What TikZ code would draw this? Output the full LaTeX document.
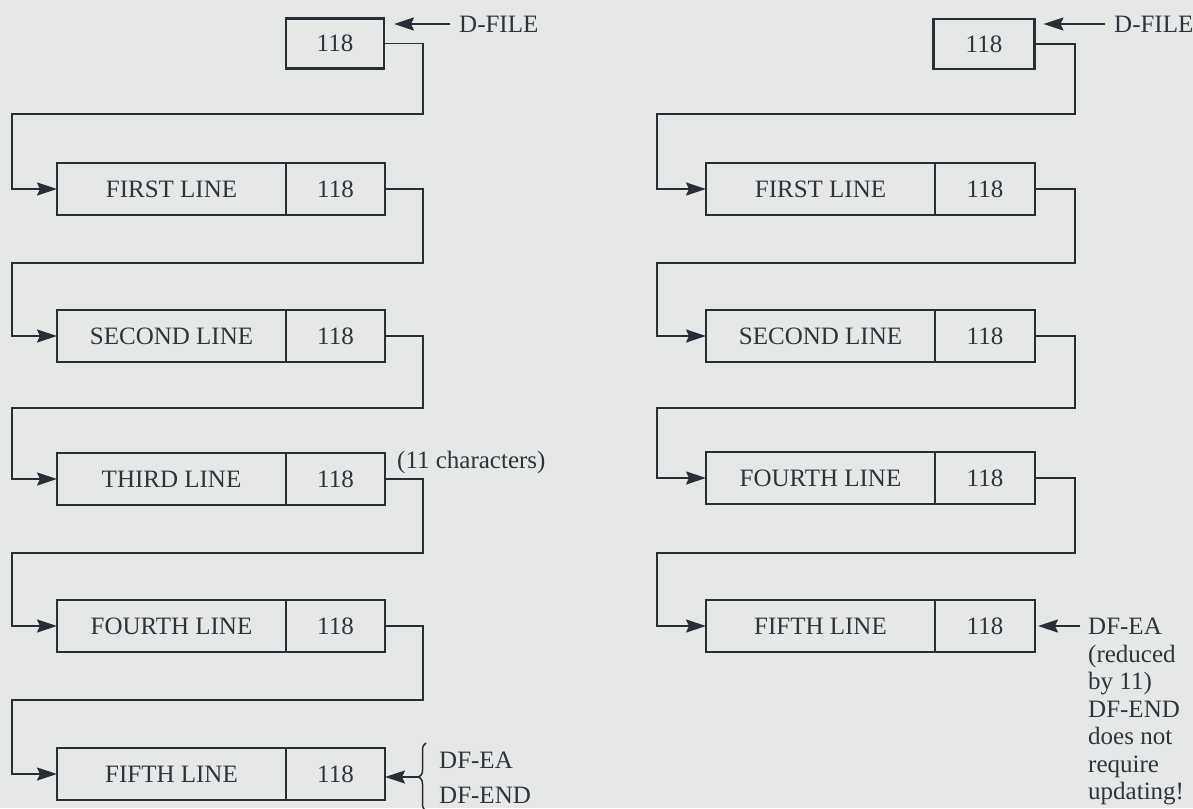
\documentclass[tikz,border=0pt]{standalone}
\usepackage{fontspec}
\setmainfont{Liberation Serif}
\usetikzlibrary{arrows.meta,decorations.pathreplacing}
\definecolor{bgc}{RGB}{230,232,231}
\definecolor{ink}{RGB}{42,44,54}
\definecolor{txt}{RGB}{48,50,62}
\tikzset{
  cell/.style={draw=ink, line width=2.6pt, minimum height=52pt, inner sep=0pt, outer sep=0pt, text=txt},
  namecell/.style={cell, minimum width=229pt},
  numcell/.style={cell, minimum width=99pt},
  topcell/.style={cell, minimum width=98pt, minimum height=50pt},
  conn/.style={draw=ink, line width=1.7pt, -{Stealth[length=20pt,width=13pt,inset=3pt]}},
  lbl/.style={text=txt, inner sep=0pt, anchor=west},
}
\begin{document}
\begin{tikzpicture}[x=1pt,y=-1pt,font=\fontsize{25}{30}\selectfont]
\fill[bgc] (0,0) rectangle (1193,808);
\useasboundingbox (0,0) rectangle (1193,808);

% ---------- left column ----------
\node[topcell] (L0) at (335,43.5) {118};
\node[lbl] (Ldf) at (459,24) {D-FILE};
\draw[conn] ([xshift=-9pt]Ldf.west) -- ([xshift=10pt]L0.east |- Ldf.west);

\node[namecell] (L1a) at (171.5,189) {FIRST LINE};
\node[numcell, anchor=west] (L1b) at (L1a.east) {118};
\node[namecell] (L2a) at (171.5,336) {SECOND LINE};
\node[numcell, anchor=west] (L2b) at (L2a.east) {118};
\node[namecell] (L3a) at (171.5,479) {THIRD LINE};
\node[numcell, anchor=west] (L3b) at (L3a.east) {118};
\node[namecell] (L4a) at (171.5,626) {FOURTH LINE};
\node[numcell, anchor=west] (L4b) at (L4a.east) {118};
\node[namecell] (L5a) at (171.5,774) {FIFTH LINE};
\node[numcell, anchor=west] (L5b) at (L5a.east) {118};

\draw[conn] (L0.east) -| (423,114) -| (12,189) -- (L1a.west);
\draw[conn] (L1b.east) -| (423,263) -| (12,336) -- (L2a.west);
\draw[conn] (L2b.east) -| (423,408) -| (12,479) -- (L3a.west);
\draw[conn] (L3b.east) -| (423,553) -| (12,626) -- (L4a.west);
\draw[conn] (L4b.east) -| (423,700) -| (12,774) -- (L5a.west);

\node[lbl] (Lch) at (397,462) {(11 characters)};

\draw[draw=ink, line width=1.5pt, decorate, decoration={brace, amplitude=7pt}] (426,811) -- (426,743);
\coordinate (Lbr) at (419,777);
\draw[conn] (Lbr) -- (L5b.east |- Lbr);
\node[lbl] (Lea) at (439,760) {DF-EA};
\node[lbl] (Lend) at (439,795) {DF-END};

% ---------- right column ----------
\node[topcell, minimum width=101pt] (R0) at (984,44) {118};
\node[lbl] (Rdf) at (1114,24) {D-FILE};
\draw[conn] ([xshift=-9pt]Rdf.west) -- ([xshift=9pt]R0.east |- Rdf.west);

\node[namecell] (R1a) at (820.5,189) {FIRST LINE};
\node[numcell, minimum width=100pt, anchor=west] (R1b) at (R1a.east) {118};
\node[namecell] (R2a) at (820.5,336) {SECOND LINE};
\node[numcell, minimum width=100pt, anchor=west] (R2b) at (R2a.east) {118};
\node[namecell] (R3a) at (820.5,478) {FOURTH LINE};
\node[numcell, minimum width=100pt, anchor=west] (R3b) at (R3a.east) {118};
\node[namecell] (R4a) at (820.5,626) {FIFTH LINE};
\node[numcell, minimum width=100pt, anchor=west] (R4b) at (R4a.east) {118};

\draw[conn] (R0.east) -| (1075,114) -| (657,189) -- (R1a.west);
\draw[conn] (R1b.east) -| (1075,263) -| (657,336) -- (R2a.west);
\draw[conn] (R2b.east) -| (1075,408) -| (657,478) -- (R3a.west);
\draw[conn] (R3b.east) -| (1075,553) -| (657,626) -- (R4a.west);

\node[text=txt, inner sep=0pt, anchor=north west, align=left,
      font=\fontsize{25}{27.5}\selectfont] (Rnote) at (1088,618)
  {DF-EA\\(reduced\\by 11)\\DF-END\\does not\\require\\updating!};
\draw[conn] ([xshift=-8pt]Rnote.north west |- R4b.east) -- ([xshift=3pt]R4b.east);
\end{tikzpicture}
\end{document}
